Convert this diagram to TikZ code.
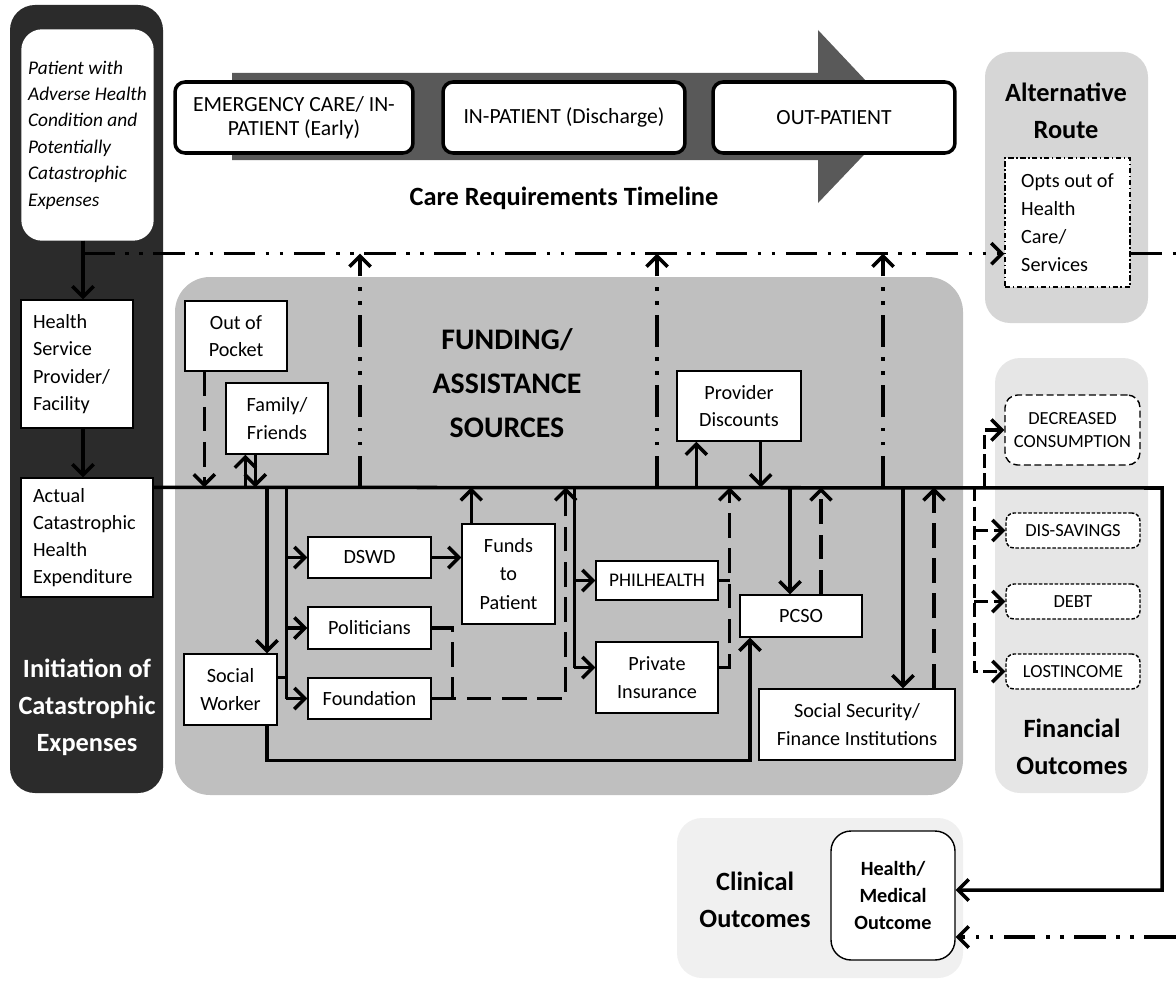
\documentclass[tikz,border=0pt]{standalone}
\usepackage{fontspec}
\setmainfont{Carlito}
\usepackage{tikz}
\usetikzlibrary{arrows.meta}
\usetikzlibrary{calc}

\definecolor{darkpanel}{HTML}{2B2B2B}
\definecolor{fundgray}{HTML}{BFBFBF}
\definecolor{altgray}{HTML}{D6D6D6}
\definecolor{fingray}{HTML}{E6E6E6}
\definecolor{clingray}{HTML}{F0F0F0}
\definecolor{timegray}{HTML}{595959}

\begin{document}
\begin{tikzpicture}[x=0.02cm, y=-0.02cm,
	>={Straight Barb[length=6pt,width=12pt]},
	box/.style={draw, fill=white, line width=0.8pt, inner sep=2pt, align=center, font=\fontsize{11.5}{15.5}\selectfont},
	stage/.style={draw, fill=white, line width=2pt, rounded corners=0.2cm, align=center, minimum height=1.42cm, font=\fontsize{12.3}{13.5}\selectfont},
	outc/.style={box, rounded corners=0.16cm, minimum width=2.68cm, minimum height=0.7cm, font=\fontsize{10.5}{13.5}\selectfont, dash pattern=on 2pt off 1pt},
	heading/.style={align=center, font=\fontsize{15}{21}\selectfont\bfseries},
	conn/.style={line width=2pt},
	fdash/.style={conn, dash pattern=on 14pt off 6pt},
	odash/.style={conn, dash pattern=on 8pt off 3pt},
	ddot/.style={conn, dash pattern=on 18pt off 6pt on 2pt off 6pt on 2pt off 6pt}]
	\useasboundingbox (0,0) rectangle (1176,980);
	% panels
	\fill[darkpanel, rounded corners=0.5cm] (10,5) rectangle (163,793);
	\fill[fundgray, rounded corners=0.7cm] (175,277) rectangle (963,795);
	\fill[altgray, rounded corners=0.5cm] (985,52) rectangle (1148,323);
	\fill[fingray, rounded corners=0.5cm] (995,358) rectangle (1148,793);
	\fill[clingray, rounded corners=0.5cm] (677,818) rectangle (963,978);
	\fill[timegray] (232,73) -- (818,73) -- (818,30) -- (900,117) -- (818,203) -- (818,160) -- (232,160) -- cycle;
	% initiation column
	\node[box, draw=white, rounded corners=0.4cm, minimum width=2.62cm, minimum height=4.2cm, align=left, font=\fontsize{11}{15}\selectfont\itshape] (patient) at (87.5,135) {Patient with\\Adverse Health\\Condition and\\Potentially\\Catastrophic\\Expenses};
	\node[box, minimum width=2.24cm, minimum height=2.56cm, text width=1.76cm, align=left] (health) at (77,364) {Health\\Service\\Provider/\\Facility};
	\node[box, minimum width=2.64cm, minimum height=2.38cm, text width=2.16cm, align=left] (actual) at (87,537.5) {Actual\\Catastrophic\\Health\\Expenditure};
	\node[heading, text=white] (init) at (87,707) {Initiation of\\Catastrophic\\Expenses};
	% timeline
	\node[stage, minimum width=4.76cm] (emerg) at (294,117.5) {EMERGENCY CARE/ IN-\\PATIENT (Early)};
	\node[stage, minimum width=4.84cm] (inpat) at (564,117.5) {IN-PATIENT (Discharge)};
	\node[stage, minimum width=4.84cm] (outpat) at (834,117.5) {OUT-PATIENT};
	\node[heading] (timeline) at (564,198) {Care Requirements Timeline};
	% alternative route
	\node[heading] (alttitle) at (1066,111) {Alternative\\Route};
	\node[box, dash pattern=on 3pt off 1.5pt on 0.8pt off 1.5pt, minimum width=2.5cm, minimum height=2.58cm, align=left, font=\fontsize{11.5}{16}\selectfont] (opts) at (1067.5,222.5) {Opts out of\\Health\\Care/\\Services};
	% funding sources
	\node[heading, font=\fontsize{17}{25}\selectfont\bfseries] (fundtitle) at (507,383) {FUNDING/\\ASSISTANCE\\SOURCES};
	\node[box, minimum width=2.04cm, minimum height=1.4cm] (oop) at (236,336) {Out of\\Pocket};
	\node[box, minimum width=2.04cm, minimum height=1.42cm] (family) at (277,418.5) {Family/\\Friends};
	\node[box, minimum width=1.86cm, minimum height=1.42cm] (sworker) at (230.5,689.5) {Social\\Worker};
	\node[box, minimum width=2.46cm, minimum height=0.82cm] (dswd) at (369.5,557.5) {DSWD};
	\node[box, minimum width=2.46cm, minimum height=0.84cm] (polit) at (369.5,628) {Politicians};
	\node[box, minimum width=2.46cm, minimum height=0.82cm] (found) at (369.5,698.5) {Foundation};
	\node[box, minimum width=1.86cm, minimum height=2cm, font=\fontsize{11.5}{16}\selectfont] (funds) at (508.5,574) {Funds\\to\\Patient};
	\node[box, minimum width=2.44cm, minimum height=0.78cm, font=\fontsize{11}{14}\selectfont] (phil) at (657,580.5) {PHILHEALTH};
	\node[box, minimum width=2.44cm, minimum height=1.42cm] (privins) at (657,677.5) {Private\\Insurance};
	\node[box, minimum width=2.48cm, minimum height=1.4cm] (provdisc) at (739,406) {Provider\\Discounts};
	\node[box, minimum width=2.44cm, minimum height=0.84cm] (pcso) at (801,616) {PCSO};
	\node[box, minimum width=3.92cm, minimum height=1.42cm] (socsec) at (857,724.5) {Social Security/\\Finance Institutions};
	% outcomes
	\node[box, rounded corners=0.25cm, dash pattern=on 4pt off 2pt, minimum width=2.7cm, minimum height=1.4cm, font=\fontsize{10.5}{13.5}\selectfont] (decr) at (1072.5,430) {DECREASED\\CONSUMPTION};
	\node[outc] (dissav) at (1073,530.5) {DIS-SAVINGS};
	\node[outc] (debt) at (1073,601.5) {DEBT};
	\node[outc] (lost) at (1073,671.5) {LOSTINCOME};
	\node[heading] (fintitle) at (1072,747) {Financial\\Outcomes};
	\node[heading] (clintitle) at (755,900) {Clinical\\Outcomes};
	\node[box, rounded corners=0.4cm, minimum width=2.48cm, minimum height=2.58cm, font=\fontsize{11.5}{15.5}\selectfont\bfseries] (hmo) at (893,895.5) {Health/\\Medical\\Outcome};
	% main routes
	\coordinate (stem) at ([xshift=-0.09cm]patient.south);
	\coordinate (split) at ([yshift=-0.26cm]stem);
	\coordinate (bus) at ([yshift=-0.2cm]actual.north east);
	\coordinate (busE) at (1162,488);
	\coordinate (edgeR) at (1176,0);
	\coordinate (hmoLow) at ([yshift=-0.83cm]hmo.east);
	\draw[conn,->] (stem) -- (stem |- health.north);
	\draw[conn,->] (stem |- health.south) -- (stem |- actual.north);
	\draw[ddot,->] (split) -- (split -| opts.west);
	\draw[ddot] (opts.east |- split) -- (edgeR |- split);
	\foreach \x in {360,657,883}
		\draw[ddot,->] (\x,0 |- bus) -- (\x,0 |- split);
	\draw[conn,->] (bus) -- (busE) |- ([yshift=0.11cm]hmo.east);
	\draw[ddot,->] (edgeR |- hmoLow) -- (hmoLow);
	% funding links
	\coordinate (oopD) at ([xshift=0.4cm]oop.south west);
	\coordinate (famU) at ([xshift=0.4cm]family.south west);
	\coordinate (famD) at ([xshift=0.6cm]family.south west);
	\draw[fdash,->] (oopD) -- (oopD |- bus);
	\draw[conn,->] (famU |- bus) -- (famU);
	\draw[conn,->] (famD) -- (famD |- bus);
	\coordinate (swIn) at ([xshift=0.73cm]sworker.north);
	\coordinate (swOut) at ([xshift=0.73cm]sworker.south);
	\coordinate (swR) at ([yshift=0.24cm]sworker.east);
	\coordinate (trunk) at ([xshift=-0.42cm]dswd.west);
	\draw[conn,->] (swIn |- bus) -- (swIn);
	\draw[conn] (trunk |- bus) -- (trunk |- found.west);
	\draw[conn] (swR) -- (swR -| trunk);
	\foreach \n in {dswd,polit,found}
		\draw[conn,->] (trunk |- \n.west) -- (\n.west);
	\draw[conn,->] (dswd.east) -- (dswd.east -| funds.west);
	\coordinate (fundsUp) at ([xshift=0.2cm]funds.north west);
	\coordinate (pj) at ([xshift=0.42cm]polit.east);
	\coordinate (pu) at ([xshift=0.2cm]funds.east);
	\draw[conn,->] (fundsUp) -- (fundsUp |- bus);
	\draw[fdash] (polit.east) -| (pj |- found.east);
	\draw[fdash,->] (found.east) -| (pu |- bus);
	\coordinate (trunkB) at ([xshift=-0.42cm]phil.west);
	\coordinate (piL) at ([yshift=0.2cm]privins.west);
	\coordinate (piR) at ([yshift=0.2cm]privins.east);
	\coordinate (pr) at ([xshift=0.22cm]phil.east);
	\draw[conn] (trunkB |- bus) -- (trunkB |- piL);
	\draw[conn,->] (trunkB |- phil.west) -- (phil.west);
	\draw[conn,->] (trunkB |- piL) -- (piL);
	\draw[fdash] (phil.east) -- (phil.east -| pr);
	\draw[fdash,->] (piR) -| (pr |- bus);
	\coordinate (pdU) at ([xshift=0.4cm]provdisc.south west);
	\coordinate (pdD) at ([xshift=-0.82cm]provdisc.south east);
	\draw[conn,->] (pdU |- bus) -- (pdU);
	\draw[conn,->] (pdD) -- (pdD |- bus);
	\coordinate (pcD) at ([xshift=-0.22cm]pcso.north);
	\coordinate (pcU) at ([xshift=0.4cm]pcso.north);
	\coordinate (pcIn) at ([xshift=-1.02cm]pcso.south);
	\draw[conn,->] (pcD |- bus) -- (pcD);
	\draw[fdash,->] (pcU) -- (pcU |- bus);
	\draw[conn,->] (swOut) -- (swOut |- socsec.south) -| (pcIn);
	\coordinate (ssD) at ([xshift=0.92cm]socsec.north);
	\coordinate (ssU) at ([xshift=1.54cm]socsec.north);
	\draw[conn,->] (ssD |- bus) -- (ssD);
	\draw[fdash,->] (ssU) -- (ssU |- bus);
	% financial outcomes
	\coordinate (fs) at ([xshift=-0.62cm]lost.west);
	\coordinate (fd) at ([xshift=-0.4cm]decr.west);
	\draw[odash,->] (fs |- bus) |- (lost.west);
	\draw[odash,->] (fs |- dissav.west) -- (dissav.west);
	\draw[odash,->] (fs |- debt.west) -- (debt.west);
	\draw[odash,->] (fd |- bus) |- (decr.west);
\end{tikzpicture}
\end{document}
